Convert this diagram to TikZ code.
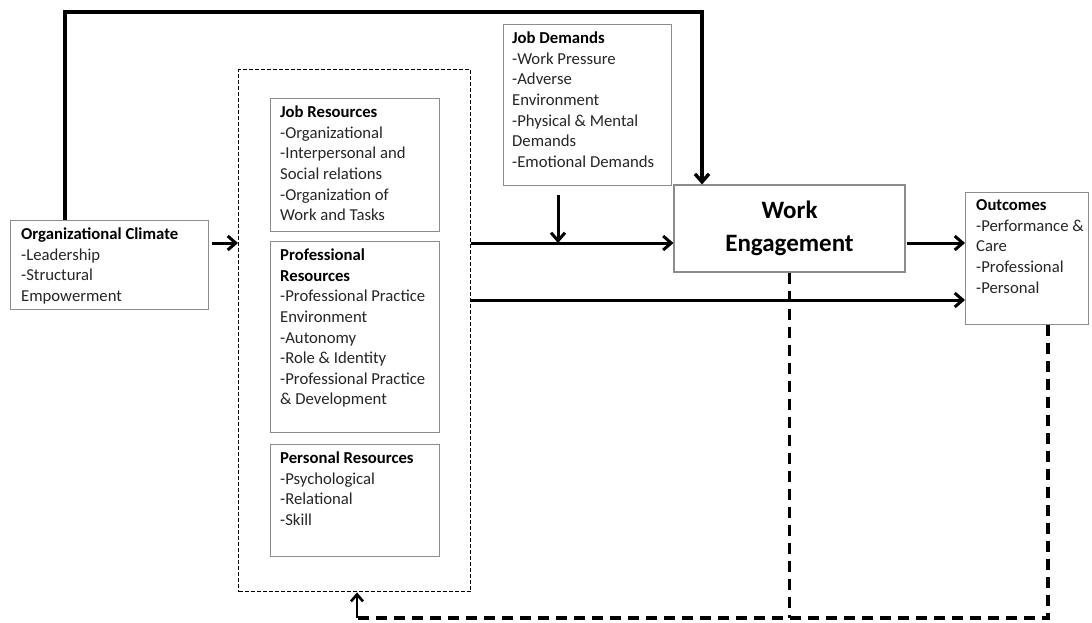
\documentclass[tikz,border=0pt]{standalone}
\usepackage{fontspec}
\setmainfont{Carlito}
\usetikzlibrary{arrows.meta}
\begin{document}
\begin{tikzpicture}[x=1pt,y=-1pt,
  box/.style={draw=black!45, line width=1.1pt, inner sep=0pt, anchor=north west},
  txt/.style={anchor=north west, inner sep=0pt, align=left, font=\fontsize{16.7}{20.6}\selectfont, text=black!85},
  arr/.style={line width=3pt, -{Straight Barb[length=8pt,width=14pt]}},
  ret/.style={line width=3.2pt, dash pattern=on 11pt off 7pt},
]
\useasboundingbox[fill=white] (0,0) rectangle (1092,622);

% boxes
\node[box, minimum width=198pt, minimum height=89pt] (oc) at (10,220) {};
\node[draw, line width=1.4pt, dash pattern=on 4pt off 2pt, minimum width=232pt, minimum height=522pt, anchor=north west, inner sep=0pt] (res) at (238,69) {};
\node[box, minimum width=169pt, minimum height=133pt] (jr) at (270,98) {};
\node[box, minimum width=169pt, minimum height=191pt] (pr) at (270,241) {};
\node[box, minimum width=169pt, minimum height=112pt] (ps) at (270,444) {};
\node[box, minimum width=168pt, minimum height=161pt] (jd) at (503,24) {};
\node[box, minimum width=231pt, minimum height=87pt, anchor=center, align=center,
  font=\fontsize{25}{33}\selectfont\bfseries] (we) at (789.5,228.5) {Work\\Engagement};
\node[box, minimum width=123pt, minimum height=132pt] (out) at (965,192) {};

% texts
\node[txt] (oct) at ([shift={(11,5)}]oc.north west) {\strut\textcolor{black}{\textbf{Organizational Climate}}\\-Leadership\\-Structural\\Empowerment};
\node[txt] (jrt) at ([shift={(10,5)}]jr.north west) {\strut\textcolor{black}{\textbf{Job Resources}}\\-Organizational\\-Interpersonal and\\Social relations\\-Organization of\\Work and Tasks};
\node[txt] (prt) at ([shift={(10,5)}]pr.north west) {\strut\textcolor{black}{\textbf{Professional}}\\\textcolor{black}{\textbf{Resources}}\\-Professional Practice\\Environment\\-Autonomy\\-Role \& Identity\\-Professional Practice\\\& Development};
\node[txt] (pst) at ([shift={(10,5)}]ps.north west) {\strut\textcolor{black}{\textbf{Personal Resources}}\\-Psychological\\-Relational\\-Skill};
\node[txt] (jdt) at ([shift={(9,5)}]jd.north west) {\strut\textcolor{black}{\textbf{Job Demands}}\\-Work Pressure\\-Adverse\\Environment\\-Physical \& Mental\\Demands\\-Emotional Demands};
\node[txt] (outt) at ([shift={(11,4)}]out.north west) {\strut\textcolor{black}{\textbf{Outcomes}}\\-Performance \&\\Care\\-Professional\\-Personal};

% helper coordinates
\coordinate (y1) at (0,243);
\coordinate (y2) at (0,300);
\coordinate (yb) at (0,618);
\coordinate (t1) at (65,12);
\coordinate (t2) at (702,12);
\coordinate (jdx) at (558,195);
\coordinate (ox) at (1048,0);
\coordinate (rb) at (357,618);

% connectors
\draw[arr] ([xshift=3pt]oc.east |- y1) -- (res.west |- y1);
\draw[arr] (res.east |- y1) -- (we.west |- y1);
\draw[arr] (res.east |- y2) -- (out.west |- y2);
\draw[arr] ([xshift=1pt]we.east |- y1) -- (out.west |- y1);
\draw[arr] (jdx) -- (jdx |- y1);
\draw[arr, line width=3.4pt] (oc.north -| t1) -- (t1) -- (t2) -- (t2 |- we.north);

% feedback (dashed)
\draw[ret] (we.south) -- (we.south |- yb);
\draw[ret] (out.south -| ox) -- (ox |- yb) -- (rb);
\draw[line width=2.6pt, -{Straight Barb[length=7pt,width=12pt]}] (rb) -- (rb |- res.south);
\end{tikzpicture}
\end{document}
